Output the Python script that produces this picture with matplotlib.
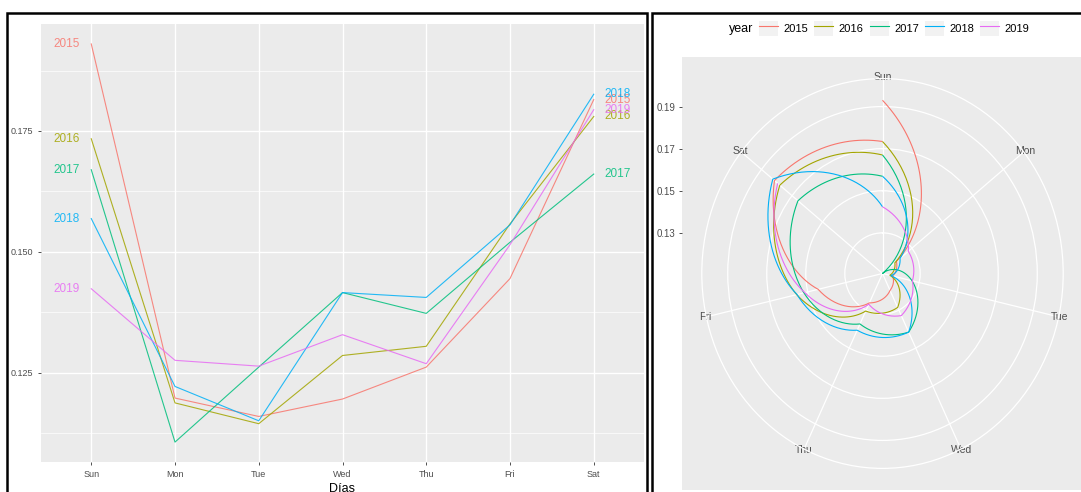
import matplotlib
matplotlib.use("Agg")
import matplotlib.pyplot as plt
import numpy as np
from matplotlib.legend_handler import HandlerTuple
from matplotlib.lines import Line2D
from matplotlib.patches import Patch, PathPatch, Rectangle
from matplotlib.path import Path

plt.rcParams["font.family"] = ["Liberation Sans", "DejaVu Sans"]

# share of trips per weekday, one list per year
days = ["Sun", "Mon", "Tue", "Wed", "Thu", "Fri", "Sat"]
years = ["2015", "2016", "2017", "2018", "2019"]
p2015 = [0.1930, 0.1198, 0.1160, 0.1196, 0.1262, 0.1445, 0.1815]
p2016 = [0.1734, 0.1188, 0.1145, 0.1286, 0.1305, 0.1558, 0.1780]
p2017 = [0.1670, 0.1107, 0.1262, 0.1416, 0.1373, 0.1520, 0.1661]
p2018 = [0.1569, 0.1222, 0.1151, 0.1416, 0.1406, 0.1556, 0.1826]
p2019 = [0.1424, 0.1276, 0.1264, 0.1329, 0.1269, 0.1515, 0.1794]
series = [p2015, p2016, p2017, p2018, p2019]
colors = ["#F8766D", "#A3A500", "#00BF7D", "#00B0F6", "#E76BF3"]

y_major = [0.125, 0.150, 0.175]
y_minor = [0.1125, 0.1375, 0.1625, 0.1875]
r_breaks = [0.13, 0.15, 0.17, 0.19]

BG = "#EBEBEB"
AXTXT = "#4D4D4D"
TICK = "#333333"
NARROW = ["Liberation Sans Narrow", "Liberation Sans"]

W, H = 1081, 492
fig = plt.figure(figsize=(W / 100, H / 100), dpi=100)


def box(x0, y0, x1, y1):
    """pixel box (origin top-left) -> figure-fraction rect"""
    return [x0 / W, 1 - y1 / H, (x1 - x0) / W, (y1 - y0) / H]


allv = np.concatenate(series)
lo, hi = allv.min(), allv.max()
span = hi - lo

# ---- left: lines by weekday ----
ax = fig.add_axes(box(41, 24, 644, 462))
ax.set_facecolor(BG)
x = np.arange(1, len(days) + 1)
for yr, vals, c in zip(years, series, colors):
    ax.plot(x, vals, color=c, lw=0.8, alpha=0.85, zorder=3)
    ax.text(x[0] - 0.29, vals[0], yr, color=c, ha="center", va="center",
            fontsize=8.5, family=NARROW, alpha=0.85, zorder=4)
    ax.text(x[-1] + 0.29, vals[-1], yr, color=c, ha="center", va="center",
            fontsize=8.5, family=NARROW, alpha=0.85, zorder=4)
ax.set_xlim(0.4, len(days) + 0.6)
ax.set_ylim(lo - 0.05 * span, hi + 0.05 * span)
ax.set_xticks(x, days)
ax.set_yticks(y_major, [f"{v:.3f}" for v in y_major])
ax.set_yticks(y_minor, minor=True)
ax.grid(which="major", color="white", lw=1.0)
ax.grid(which="minor", axis="y", color="white", lw=0.5)
ax.set_axisbelow(True)
for s in ax.spines.values():
    s.set_visible(False)
ax.tick_params(which="major", length=2.5, width=0.6, color=TICK,
               labelsize=6.5, labelcolor=AXTXT, pad=3)
ax.tick_params(which="minor", length=0)
ax.set_xlabel("Días", fontsize=9, labelpad=3)

# ---- right: same data in polar coordinates ----
cx, cy, hw, hh = 882.5, 273.5, 180.7, 194.9
bg = fig.add_axes(box(cx - hw / 0.9, 57, cx + hw / 0.9, 490))
bg.set_facecolor(BG)
bg.set_xlim(0, 1)
bg.set_ylim(lo - 1.25 * span, lo + 1.25 * span)
bg.set_xticks([])
bg.set_yticks(r_breaks, [f"{v:.2f}" for v in r_breaks])
for s in bg.spines.values():
    s.set_visible(False)
bg.tick_params(axis="y", length=2.5, width=0.6, color=TICK,
               labelsize=7, labelcolor=AXTXT, pad=2)

pax = fig.add_axes(box(cx - hw, cy - hh, cx + hw, cy + hh), projection="polar")
pax.set_aspect("auto")
pax.set_facecolor("none")
pax.set_theta_zero_location("N")
pax.set_theta_direction(-1)
theta = 2 * np.pi * np.arange(len(days)) / len(days)

for i, (vals, c) in enumerate(zip(series, colors)):
    th = list(theta)
    rr = list(vals)
    # path carries on from Saturday into next year's Sunday
    if i + 1 < len(series):
        th.append(2 * np.pi)
        rr.append(series[i + 1][0])
    path = Path(np.column_stack([th, rr]), _interpolation_steps=48)
    pax.add_patch(PathPatch(path, fill=False, edgecolor=c, lw=0.8, zorder=3))

pax.set_xlim(0, 2 * np.pi)
pax.set_ylim(lo, lo + 1.125 * span)
pax.set_thetagrids(np.degrees(theta), days)
pax.set_rgrids(r_breaks, labels=[""] * len(r_breaks))
pax.grid(color="white", lw=0.9)
pax.spines["polar"].set_color("white")
pax.spines["polar"].set_linewidth(0.9)
pax.tick_params(axis="x", pad=-6, labelsize=7.5, labelcolor=AXTXT, length=0)
pax.tick_params(axis="y", length=0)

handles = [(Patch(facecolor="#F2F2F2", edgecolor="none"),
            Line2D([], [], color=c, lw=0.8)) for c in colors]
fig.legend(handles, years, handler_map={tuple: HandlerTuple(ndivide=1, pad=0)},
           loc="center left", bbox_to_anchor=(759 / W, 1 - 28 / H), ncol=5,
           frameon=False, fontsize=8, handlelength=1.7, handleheight=1.7,
           handletextpad=0.5, columnspacing=0.55, borderpad=0, borderaxespad=0)
fig.text(741 / W, 1 - 29 / H, "year", ha="center", va="center", fontsize=9)

# black frames round the two panels
fig.add_artist(Rectangle((7.5 / W, -0.1), (647 - 7.5) / W, 1.1 - 13 / H,
                         transform=fig.transFigure, fill=False, ec="black", lw=1.8))
fig.add_artist(Rectangle((651.5 / W, -0.1), 0.5, 1.1 - 13 / H,
                         transform=fig.transFigure, fill=False, ec="black", lw=1.8))

fig.savefig("out.png", dpi=100)
